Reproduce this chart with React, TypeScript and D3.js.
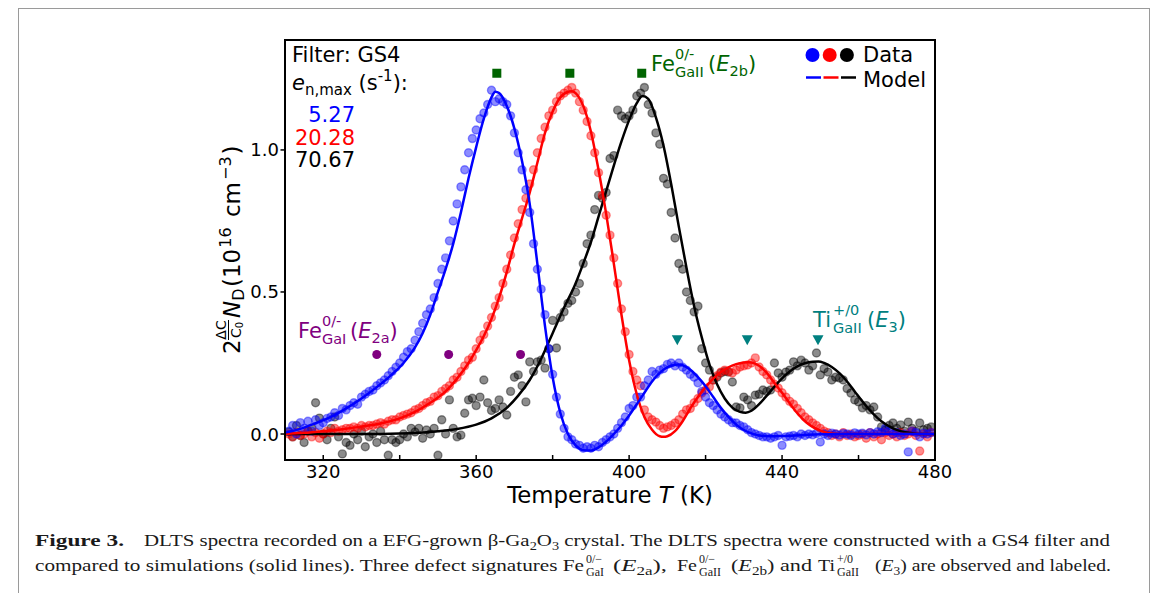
import React from "react";
import * as d3 from "d3";

// ---------- data ----------
const temps = [
  311,312,313,314,315,316,317,318,319,320,
  321,322,323,324,325,326,327,328,329,330,
  331,332,333,334,335,336,337,338,339,340,
  341,342,343,344,345,346,347,348,349,350,
  351,352,353,354,355,356,357,358,359,360,
  361,362,363,364,365,366,367,368,369,370,
  371,372,373,374,375,376,377,378,379,380,
  381,382,383,384,385,386,387,388,389,390,
  391,392,393,394,395,396,397,398,399,400,
  401,402,403,404,405,406,407,408,409,410,
  411,412,413,414,415,416,417,418,419,420,
  421,422,423,424,425,426,427,428,429,430,
  431,432,433,434,435,436,437,438,439,440,
  441,442,443,444,445,446,447,448,449,450,
  451,452,453,454,455,456,457,458,459,460,
  461,462,463,464,465,466,467,468,469,470,
  471,472,473,474,475,476,477,478,479,
];

const blueData = [
  0.01,0.03,0.0,0.04,0.02,0.045,0.01,0.05,0.03,0.04,
  0.055,0.06,0.075,0.065,0.09,0.085,0.1,0.11,0.105,0.13,
  0.14,0.15,0.155,0.17,0.18,0.19,0.205,0.22,0.235,0.25,
  0.27,0.29,0.3,0.33,0.36,0.39,0.42,0.44,0.48,0.53,
  0.58,0.62,0.68,0.75,0.81,0.87,0.93,0.99,1.04,1.07,
  1.11,1.13,1.16,1.21,1.17,1.18,1.17,1.16,1.12,1.06,
  0.99,0.93,0.86,0.78,0.67,0.58,0.51,0.42,0.3,0.21,
  0.13,0.07,0.02,-0.01,-0.02,-0.035,-0.04,-0.05,-0.045,-0.05,
  -0.04,-0.045,-0.03,-0.02,-0.01,0.0,0.02,0.04,0.06,0.09,
  0.1,0.13,0.13,0.17,0.19,0.22,0.21,0.225,0.23,0.245,
  0.25,0.24,0.25,0.235,0.225,0.21,0.2,0.18,0.15,0.13,
  0.11,0.1,0.085,0.07,0.06,0.05,0.04,0.039,0.03,0.025,
  0.015,0.005,0.0,-0.005,-0.01,-0.01,-0.015,-0.01,-0.005,-0.04,
  -0.01,-0.008,-0.005,-0.01,0.0,-0.005,0.0,-0.003,0.002,-0.028,
  0.0,-0.005,0.003,0.0,-0.004,0.002,0.0,-0.005,0.004,0.0,
  0.003,-0.003,0.005,0.0,0.008,0.005,0.02,0.01,0.0,0.005,
  -0.005,0.0,-0.063,0.01,0.005,-0.01,0.003,0.0,0.005,
];

const redData = [
  0.0,-0.01,0.005,-0.005,0.0,0.01,-0.01,0.005,-0.015,0.0,
  0.01,0.005,0.02,0.01,0.015,0.02,0.02,0.025,0.02,0.03,
  0.025,0.03,0.03,0.035,0.04,0.035,0.045,0.05,0.05,0.06,
  0.065,0.07,0.075,0.085,0.09,0.1,0.11,0.115,0.13,0.135,
  0.15,0.16,0.17,0.19,0.2,0.22,0.24,0.26,0.27,0.3,
  0.33,0.35,0.38,0.41,0.45,0.48,0.53,0.58,0.63,0.69,
  0.74,0.79,0.83,0.88,0.93,0.99,1.04,1.08,1.12,1.14,
  1.17,1.19,1.2,1.21,1.22,1.2,1.17,1.14,1.1,1.05,
  0.99,0.92,0.84,0.77,0.7,0.62,0.53,0.44,0.36,0.28,
  0.22,0.19,0.17,0.085,0.06,0.05,0.042,0.03,0.02,0.025,
  0.03,0.039,0.05,0.07,0.085,0.09,0.11,0.125,0.144,0.155,
  0.166,0.19,0.205,0.218,0.225,0.22,0.215,0.225,0.236,0.24,
  0.243,0.25,0.268,0.236,0.22,0.208,0.19,0.175,0.162,0.145,
  0.13,0.115,0.105,0.09,0.075,0.06,0.05,0.039,0.03,0.02,
  0.01,0.005,-0.005,0.0,-0.01,0.005,-0.005,0.0,-0.01,-0.005,
  0.0,-0.015,0.005,-0.01,0.0,-0.02,0.005,-0.005,0.0,-0.01,
  0.005,-0.005,0.0,0.01,-0.005,-0.06,0.0,-0.01,0.005,
];

const blackData = [
  0.007,-0.01,0.03,-0.005,-0.03,0.01,0.02,0.11,0.056,0.0,
  -0.02,0.02,0.06,-0.01,-0.07,-0.03,-0.04,0.0,-0.02,0.01,
  -0.045,-0.01,0.0,-0.03,0.01,-0.02,-0.075,-0.02,-0.03,-0.02,
  0.0,-0.01,0.02,0.007,0.02,-0.015,0.014,0.0,0.02,-0.075,
  0.05,0.0,0.12,0.02,-0.01,-0.004,0.073,0.12,0.126,0.1,
  0.13,0.19,0.11,0.083,0.09,0.12,0.095,0.067,0.15,0.2,
  0.208,0.17,0.113,0.254,0.22,0.254,0.26,0.232,0.3,0.4,
  0.303,0.41,0.43,0.46,0.47,0.5,0.53,0.6,0.67,0.7,
  0.79,0.84,0.83,0.85,0.97,0.98,1.14,1.12,1.11,1.12,
  1.14,1.19,1.2,1.22,1.16,1.13,1.06,1.02,0.9,0.88,
  0.78,0.69,0.6,0.58,0.5,0.47,0.43,0.45,0.3,0.25,
  0.225,0.19,0.2,0.215,0.22,0.218,0.183,0.095,0.092,0.13,
  0.12,0.1,0.137,0.14,0.155,0.15,0.155,0.25,0.215,0.2,
  0.218,0.225,0.254,0.24,0.26,0.25,0.225,0.24,0.285,0.208,
  0.23,0.218,0.19,0.2,0.197,0.19,0.16,0.144,0.12,0.113,
  0.092,0.1,0.085,0.095,0.06,0.025,0.014,0.03,0.039,0.02,
  0.032,0.01,0.042,0.02,0.01,0.039,0.015,0.02,0.025,
];

const blueModelT = [310,314,318,322,326,330,334,338,341,344,346,348,350,352,354,356,358,360,362,364,365,366,368,370,372,374,376,378,380,382,384,386,388,390,392,394,396,398,400,402,404,406,408,410,412,413,414,416,418,420,422,424,426,428,430,432,434,437,440,445,450,460,470,480];
const blueModelV = [0.005,0.018,0.038,0.06,0.09,0.125,0.165,0.21,0.25,0.305,0.355,0.42,0.5,0.58,0.67,0.78,0.9,1.01,1.11,1.185,1.205,1.2,1.155,1.075,0.96,0.81,0.6,0.38,0.2,0.075,0.0,-0.04,-0.057,-0.058,-0.047,-0.027,0.0,0.03,0.065,0.105,0.145,0.185,0.215,0.235,0.244,0.245,0.242,0.226,0.2,0.168,0.13,0.092,0.06,0.033,0.014,0.002,-0.005,-0.008,-0.007,-0.004,-0.001,0.0,0.0,0.0];

const redModelT = [310,315,320,325,330,335,340,344,348,352,355,358,360,362,364,366,368,370,372,374,376,378,380,382,384,385,386,388,390,392,394,396,398,400,402,404,406,408,409,410,412,414,416,418,420,422,424,426,428,430,431,432,434,436,438,440,442,444,446,448,450,452,455,480];
const redModelV = [0.0,0.004,0.01,0.017,0.026,0.037,0.055,0.078,0.11,0.15,0.195,0.25,0.295,0.345,0.405,0.48,0.57,0.67,0.76,0.85,0.955,1.06,1.135,1.185,1.205,1.207,1.2,1.155,1.065,0.93,0.775,0.6,0.42,0.26,0.14,0.06,0.015,-0.008,-0.01,-0.008,0.01,0.045,0.09,0.13,0.165,0.195,0.218,0.235,0.246,0.252,0.253,0.252,0.24,0.215,0.18,0.145,0.108,0.073,0.045,0.025,0.012,0.004,0.0,0.0];

const blackModelT = [310,330,340,350,355,360,364,368,371,374,377,380,383,386,388,390,392,394,396,398,400,402,403.5,405,407,409,411,413,415,417,419,421,423,425,427,429,430.5,432,434,436,438,440,442,444,446,448,449.5,451,453,455,457,459,461,463,465,467,469,471,474,477,480];
const blackModelV = [0.0,0.0,0.002,0.01,0.018,0.033,0.055,0.092,0.135,0.19,0.265,0.355,0.445,0.53,0.6,0.675,0.765,0.855,0.945,1.03,1.105,1.165,1.19,1.18,1.115,1.015,0.88,0.73,0.585,0.45,0.34,0.245,0.175,0.125,0.093,0.078,0.075,0.082,0.105,0.135,0.167,0.196,0.22,0.238,0.249,0.254,0.255,0.25,0.236,0.214,0.185,0.15,0.115,0.083,0.056,0.035,0.02,0.01,0.003,0.0,0.0];

const xTicks = [320, 360, 400, 440, 480];
const xMinorTicks = [340, 380, 420, 460];
const yTicks = [0.0, 0.5, 1.0];

const e2bPeaksT = [365.4, 384.5, 403.3];
const e2bLevel = 1.27;
const e2aPeaksT = [334, 352.8, 371.6];
const e2aLevel = 0.28;
const e3PeaksT = [412.6, 430.9, 449.4];
const e3Level = 0.33;

const rateLabels = ["5.27", "20.28", "70.67"];
const seriesColors = ["#0000ff", "#ff0000", "#000000"];

// ---------- component ----------
const SANS = "'DejaVu Sans', sans-serif";
const SERIF = "'Liberation Serif', 'DejaVu Serif', serif";

export default function App() {
  const left = 285, right = 935, top = 40, bottom = 460;
  const x = d3.scaleLinear().domain([310, 480]).range([left, right]);
  const y = d3.scaleLinear().domain([-0.0915, 1.387]).range([bottom, top]);
  const line = d3
    .line<[number, number]>()
    .x((d) => x(d[0]))
    .y((d) => y(d[1]))
    .curve(d3.curveMonotoneX);

  const dataSets = [blueData, redData, blackData];
  const models: [number[], number[]][] = [
    [blueModelT, blueModelV],
    [redModelT, redModelV],
    [blackModelT, blackModelV],
  ];
  const scatterOrder = [2, 1, 0];
  const lineOrder = [2, 1, 0];

  const green = "#006400";
  const purple = "#800080";
  const teal = "#008080";

  return (
    <svg
      width={1163}
      height={593}
      style={{ position: "absolute", left: 0, top: 0, background: "#fff" }}
      fontFamily={SANS}
    >
      <rect x={0} y={0} width={1163} height={593} fill="#fff" />
      <rect x={18.5} y={8.5} width={1131} height={620} fill="none" stroke="#9a9a9a" strokeWidth={1} />
      <defs>
        <clipPath id="plotclip">
          <rect x={left} y={top} width={right - left} height={bottom - top} />
        </clipPath>
      </defs>

      {/* scatter */}
      <g clipPath="url(#plotclip)">
        {scatterOrder.map((si) =>
          dataSets[si].map((v, i) => (
            <circle
              key={`p${si}-${i}`}
              cx={x(temps[i])}
              cy={y(v)}
              r={4}
              fill={seriesColors[si]}
              fillOpacity={0.45}
              stroke={seriesColors[si]}
              strokeOpacity={0.4}
              strokeWidth={1.4}
            />
          ))
        )}
        {lineOrder.map((si) => {
          const [ts, vs] = models[si];
          const pts = ts.map((t, i) => [t, vs[i]] as [number, number]);
          return (
            <path key={`l${si}`} d={line(pts) || ""} fill="none" stroke={seriesColors[si]} strokeWidth={2.5} />
          );
        })}
      </g>

      {/* peak markers */}
      {e2bPeaksT.map((t, i) => (
        <rect key={`sq${i}`} x={x(t) - 4.5} y={y(e2bLevel) - 4.5} width={9} height={9} fill={green} />
      ))}
      {e2aPeaksT.map((t, i) => (
        <circle key={`pc${i}`} cx={x(t)} cy={y(e2aLevel)} r={4.5} fill={purple} />
      ))}
      {e3PeaksT.map((t, i) => {
        const cx = x(t), cy = y(e3Level);
        return <path key={`tr${i}`} d={`M${cx - 5.5},${cy - 5} L${cx + 5.5},${cy - 5} L${cx},${cy + 5} Z`} fill={teal} />;
      })}

      {/* axes frame */}
      <rect x={left} y={top} width={right - left} height={bottom - top} fill="none" stroke="#000" strokeWidth={2} />

      {/* x ticks (inward) */}
      {xTicks.concat(xMinorTicks).map((t) => (
        <line key={`xt${t}`} x1={x(t)} x2={x(t)} y1={bottom} y2={bottom - 5} stroke="#000" strokeWidth={1.5} />
      ))}
      {xTicks.map((t) => (
        <text key={`xl${t}`} x={x(t)} y={477.5} fontSize={18} textAnchor="middle">
          {t}
        </text>
      ))}
      {/* y ticks (outward) */}
      {yTicks.map((t) => (
        <g key={`yt${t}`}>
          <line x1={left - 4.5} x2={left} y1={y(t)} y2={y(t)} stroke="#000" strokeWidth={1.5} />
          <text x={left - 6} y={y(t) + 6.5} fontSize={18} textAnchor="end">
            {t.toFixed(1)}
          </text>
        </g>
      ))}

      {/* axis labels */}
      <text x={(left + right) / 2} y={503} fontSize={22.8} textAnchor="middle">
        Temperature <tspan fontStyle="italic">T</tspan> (K)
      </text>
      <g transform="translate(240,250) rotate(-90)">
        <text x={-104} y={0} fontSize={23}>2</text>
        <text x={-80} y={-14.5} fontSize={14} textAnchor="middle">ΔC</text>
        <line x1={-90} x2={-70} y1={-11.5} y2={-11.5} stroke="#000" strokeWidth={1} />
        <text x={-80} y={0.5} fontSize={14} textAnchor="middle">
          C<tspan fontSize={10} dy={2}>0</tspan>
        </text>
        <text x={-68} y={0} fontSize={23}>
          <tspan fontStyle="italic">N</tspan>
          <tspan fontSize={16} dy={4}>D</tspan>
        </text>
        <text x={-37} y={0} fontSize={23}>
          (10<tspan fontSize={16} dy={-9} dx={1}>16</tspan>
          <tspan dy={9} dx={3}> cm</tspan>
          <tspan fontSize={16} dy={-9} dx={2}>−3</tspan>
          <tspan dy={9} dx={2}>)</tspan>
        </text>
      </g>

      {/* top-left text */}
      <text x={292} y={62} fontSize={21}>Filter: GS4</text>
      <text x={292} y={90} fontSize={21}>
        <tspan fontStyle="italic">e</tspan>
        <tspan fontSize={15} dy={5}>n,max</tspan>
        <tspan dy={-5}> (s</tspan>
        <tspan fontSize={15} dy={-9}>-1</tspan>
        <tspan dy={9}>):</tspan>
      </text>
      {rateLabels.map((s, i) => (
        <text key={`rl${i}`} x={355} y={122 + i * 22.5} fontSize={21} textAnchor="end" fill={seriesColors[i]}>
          {s}
        </text>
      ))}

      {/* legend top-right */}
      {seriesColors.map((c, i) => (
        <circle key={`lc${i}`} cx={812.5 + i * 17.2} cy={55} r={7} fill={c} />
      ))}
      {seriesColors.map((c, i) => (
        <line key={`ll${i}`} x1={806 + i * 17.5} x2={821 + i * 17.5} y1={77.5} y2={77.5} stroke={c} strokeWidth={2.5} />
      ))}
      <text x={863} y={62} fontSize={21}>Data</text>
      <text x={863} y={87} fontSize={21}>Model</text>

      {/* defect labels */}
      <g fill={green} fontSize={21}>
        <text x={651} y={71}>Fe</text>
        <text x={675} y={59} fontSize={14.5}>0/-</text>
        <text x={675} y={77} fontSize={14.5}>GaII</text>
        <text x={708} y={71}>
          (<tspan fontStyle="italic">E</tspan>
          <tspan fontSize={14.5} dy={5}>2b</tspan>
          <tspan dy={-5}>)</tspan>
        </text>
      </g>
      <g fill={purple} fontSize={21}>
        <text x={298} y={338}>Fe</text>
        <text x={322} y={326} fontSize={14.5}>0/-</text>
        <text x={322} y={344} fontSize={14.5}>GaI</text>
        <text x={350} y={338}>
          (<tspan fontStyle="italic">E</tspan>
          <tspan fontSize={14.5} dy={5}>2a</tspan>
          <tspan dy={-5}>)</tspan>
        </text>
      </g>
      <g fill={teal} fontSize={21}>
        <text x={813} y={327}>Ti</text>
        <text x={833} y={315} fontSize={14.5}>+/0</text>
        <text x={833} y={333} fontSize={14.5}>GaII</text>
        <text x={867} y={327}>
          (<tspan fontStyle="italic">E</tspan>
          <tspan fontSize={14.5} dy={5}>3</tspan>
          <tspan dy={-5}>)</tspan>
        </text>
      </g>

      {/* caption */}
      <g fontFamily={SERIF} fill="#1a1a1a" fontSize={17.5}>
        <text x={35} y={546} fontWeight="bold" textLength={89} lengthAdjust="spacingAndGlyphs">Figure 3.</text>
        <text x={144} y={546} textLength={966} lengthAdjust="spacingAndGlyphs">
          DLTS spectra recorded on a EFG-grown β-Ga<tspan fontSize={12} dy={4}>2</tspan>
          <tspan dy={-4}>O</tspan>
          <tspan fontSize={12} dy={4}>3</tspan>
          <tspan dy={-4}> crystal. The DLTS spectra were constructed with a GS4 filter and</tspan>
        </text>
        <text x={35} y={571} textLength={549} lengthAdjust="spacingAndGlyphs">
          compared to simulations (solid lines). Three defect signatures Fe
        </text>
        <text x={586} y={563} fontSize={12}>0/−</text>
        <text x={586} y={576} fontSize={12}>GaI</text>
        <text x={613} y={571} textLength={54} lengthAdjust="spacingAndGlyphs">
          (<tspan fontStyle="italic">E</tspan>
          <tspan fontSize={12} dy={4}>2a</tspan>
          <tspan dy={-4}>),</tspan>
        </text>
        <text x={677} y={571} textLength={20} lengthAdjust="spacingAndGlyphs">Fe</text>
        <text x={699} y={563} fontSize={12}>0/−</text>
        <text x={699} y={576} fontSize={12}>GaII</text>
        <text x={731} y={571} textLength={81} lengthAdjust="spacingAndGlyphs">
          (<tspan fontStyle="italic">E</tspan>
          <tspan fontSize={12} dy={4}>2b</tspan>
          <tspan dy={-4}>) and</tspan>
        </text>
        <text x={818} y={571} textLength={17} lengthAdjust="spacingAndGlyphs">Ti</text>
        <text x={837} y={563} fontSize={12}>+/0</text>
        <text x={837} y={576} fontSize={12}>GaII</text>
        <text x={875} y={571} textLength={236} lengthAdjust="spacingAndGlyphs">
          (<tspan fontStyle="italic">E</tspan>
          <tspan fontSize={12} dy={4}>3</tspan>
          <tspan dy={-4}>) are observed and labeled.</tspan>
        </text>
      </g>
    </svg>
  );
}
